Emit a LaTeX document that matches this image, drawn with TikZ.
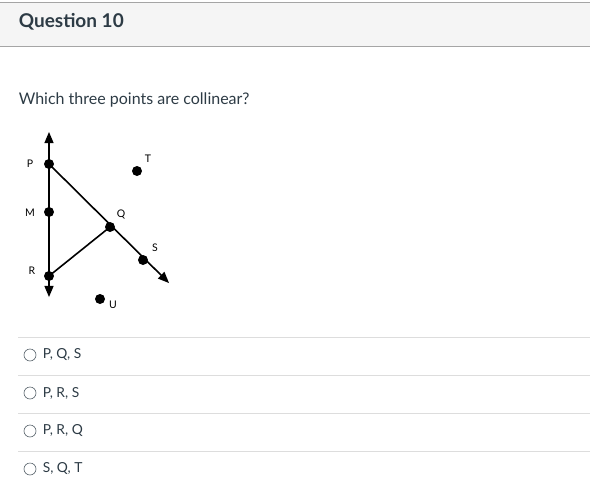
\documentclass[tikz,border=0pt]{standalone}
\usepackage{fontspec}
\setmainfont{Lato}
\usepackage{tikz}
\usetikzlibrary{arrows,positioning}
\definecolor{canvastext}{HTML}{2D3B45}
\definecolor{headfill}{HTML}{F5F5F5}
\definecolor{headline}{HTML}{A5A5A5}
\definecolor{rulegray}{HTML}{DDDDDD}

\begin{document}
\begin{tikzpicture}[x=1pt,y=-1pt,line width=1.6pt]

    \tikzstyle{every node}=[inner sep=0pt]
    \tikzstyle{pt}=[circle,fill=black,minimum size=10pt]
    \tikzstyle{lbl}=[font=\fontsize{10.5}{12}\selectfont]
    \tikzstyle{choice}=[anchor=west,text=canvastext,font=\fontsize{13.8}{16}\selectfont]
    \tikzstyle{radio}=[circle,draw=canvastext!80,line width=0.6pt,minimum size=12pt]

    \useasboundingbox (0,0) rectangle (590,504);

    % header bar
    \filldraw[fill=headfill,draw=headline,line width=0.8pt] (-1,2) rectangle (591,46);
    \node[anchor=west,text=canvastext,font=\fontsize{19}{22}\selectfont\bfseries]
         (title) at (18,22) {Question 10};
    \node[anchor=west,text=canvastext,font=\fontsize{16}{19}\selectfont]
         (ask) at (18,100) {Which three points are collinear?};

    % points
    \node[pt] (P) at (49,164) {};
    \node[pt] (M) at (49,212) {};
    \node[pt] (R) at (49,276) {};
    \node[pt] (Q) at (110,227) {};
    \node[pt] (S) at (143,260) {};
    \node[pt] (T) at (137,171) {};
    \node[pt] (U) at (100,299) {};
    \coordinate (top) at (49,132);
    \coordinate (bot) at (49,297);
    \coordinate (tip) at (169,283);

    \node[lbl] at (30,164) {P};
    \node[lbl] at (30,213) {M};
    \node[lbl] at (32,271) {R};
    \node[lbl] at (121,214) {Q};
    \node[lbl] at (155,248) {S};
    \node[lbl] at (148,159) {T};
    \node[lbl] at (113,305) {U};

    \path[-triangle 45]
    (P.center) edge (top)
    (R.center) edge (bot)
    (P.center) edge (tip);
    \draw (P.center) -- (R.center);
    \draw (R.center) -- (Q.center);

    % answer choices
    \foreach \y/\txt in {355/{P, Q, S},393/{P, R, S},431/{P, R, Q},469/{S, Q, T}} {
      \draw[rulegray,line width=0.8pt] (18,\y-18) -- (590,\y-18);
      \node[radio] at (30,\y) {};
      \node[choice] at (42,\y) {\txt};
    }
  \end{tikzpicture}
\end{document}
